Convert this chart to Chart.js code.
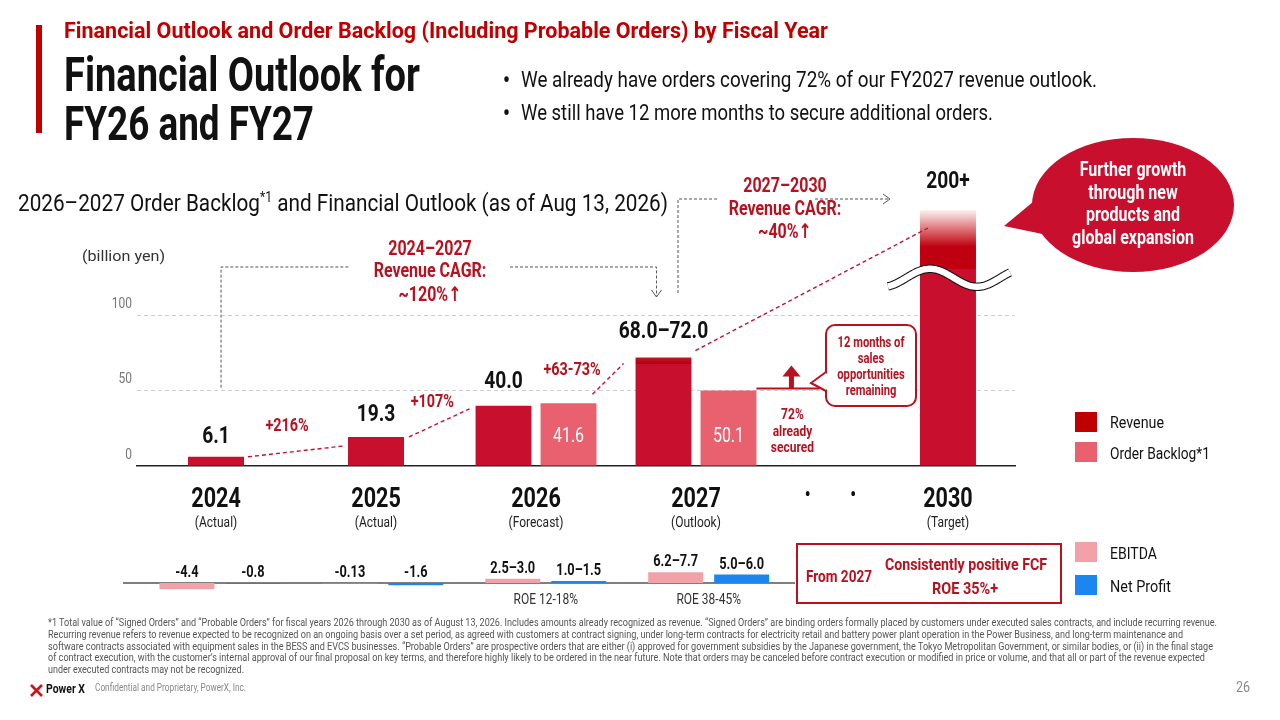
<!DOCTYPE html>
<html>
<head>
<meta charset="utf-8">
<script src="https://cdn.jsdelivr.net/npm/chart.js@4.4.1/dist/chart.umd.min.js"></script>
<style>
  html, body { margin: 0; padding: 0; background: #fff; }
  #page { position: relative; width: 1280px; height: 720px; overflow: hidden; }
  canvas { position: absolute; }
  .t { position: absolute; white-space: nowrap; }
</style>
</head>
<body>
<div id="page">
  <canvas id="main" width="1280" height="720" style="left:0;top:0"></canvas>
  <canvas id="sub" width="800" height="80" style="left:0;top:530px"></canvas>
</div>
<script>
// --- data ---
const categories = ['2024', '2025', '2026', '2027', '2030'];
const categoryNotes = ['(Actual)', '(Actual)', '(Forecast)', '(Outlook)', '(Target)'];
const revenue = [6.1, 19.3, 40.0, 72.0, 200];
const revenueLow = [null, null, null, 68.0, null];
const revenueLabels = ['6.1', '19.3', '40.0', '68.0–72.0', '200+'];
const orderBacklog = [null, null, 41.6, 50.1, null];
const growthLabels = ['+216%', '+107%', '+63-73%'];
const yTicks = [0, 50, 100];

const ebitda = [-4.4, -0.13, 3.0, 7.7];
const ebitdaLabels = ['-4.4', '-0.13', '2.5–3.0', '6.2–7.7'];
const netProfit = [-0.8, -1.6, 1.5, 6.0];
const netProfitLabels = ['-0.8', '-1.6', '1.0–1.5', '5.0–6.0'];
const roeLabels = ['', '', 'ROE 12-18%', 'ROE 38-45%'];

// --- colours ---
const RED = '#B8111F';
const REV = '#C8102E', REV_DARK = '#BE0010', BACK = '#E9616E';
const EBITDA_C = '#F2A1A9', NET_C = '#1B86F0';

// the slide uses a condensed face; none is installed, so Roboto gets squeezed
const FAM = '"Roboto", "DejaVu Sans", sans-serif';
const SQUEEZE = 0.8;
document.body.style.fontFamily = FAM;
Chart.defaults.font.family = FAM;
const f = (w, s) => `${w} ${s}px ${FAM}`;

// canvas text is narrowed through fillText's maxWidth
const narrowText = {
  id: 'narrowText',
  beforeInit(chart) {
    const c = chart.ctx, orig = c.fillText;
    c.fillText = function (t, x, y, mw) {
      const w = this.measureText(t).width * SQUEEZE;
      return orig.call(this, t, x, y, mw !== undefined ? Math.min(mw, w) : w);
    };
  }
};
Chart.register(narrowText);

// --- page text ---
const page = document.getElementById('page');
function txt(html, x, cy, size, o = {}) {
  const el = document.createElement('div');
  el.className = 't';
  el.innerHTML = html;
  Object.assign(el.style, {
    fontSize: size + 'px', lineHeight: size + 'px',
    fontWeight: o.bold ? '700' : '400', color: o.color || '#111'
  });
  page.appendChild(el);
  const natural = el.getBoundingClientRect().width;
  const w = o.w || natural * SQUEEZE;
  el.style.transformOrigin = '0 50%';
  el.style.transform = `scaleX(${w / natural})`;
  el.style.left = (o.center ? x - w / 2 : x) + 'px';
  el.style.top = (cy - size / 2) + 'px';
  return el;
}
function box(x, y, w, h, css) {
  const el = document.createElement('div');
  el.style.position = 'absolute';
  Object.assign(el.style, { left: x + 'px', top: y + 'px', width: w + 'px', height: h + 'px' }, css);
  page.appendChild(el);
}

box(36, 25, 6, 108, { background: '#C00000' });
txt('Financial Outlook and Order Backlog (Including Probable Orders) by Fiscal Year', 64, 31, 22, { bold: true, color: '#C00000', w: 764 });
txt('Financial Outlook for', 64, 75, 48, { bold: true, w: 356 });
txt('FY26 and FY27', 64, 124, 48, { bold: true, w: 250 });
txt('•', 503, 80, 24, { bold: true });
txt('•', 503, 113, 24, { bold: true });
txt('We already have orders covering 72% of our FY2027 revenue outlook.', 521, 80, 22, { w: 576 });
txt('We still have 12 more months to secure additional orders.', 521, 113, 22, { w: 472 });
txt('2026–2027 Order Backlog<sup style="font-size:14px;line-height:0">*1</sup> and Financial Outlook (as of Aug 13, 2026)', 18, 203, 24, { w: 650 });
txt('(billion yen)', 82, 256, 15, { color: '#333', w: 83 });

box(1075, 412, 22, 20, { background: '#C00000' });
box(1075, 442, 22, 20, { background: BACK });
box(1075, 542, 22, 20, { background: EBITDA_C });
box(1075, 575, 22, 20, { background: NET_C });
txt('Revenue', 1110, 422, 17, { w: 54 });
txt('Order Backlog*1', 1110, 453, 17, { w: 100 });
txt('EBITDA', 1110, 553, 17, { w: 47 });
txt('Net Profit', 1110, 586, 17, { w: 61 });

box(796, 543, 262, 57, { border: `2px solid ${RED}` });
txt('From 2027', 806, 576, 17, { bold: true, color: RED, w: 66 });
txt('Consistently positive FCF', 966, 564, 17, { bold: true, color: RED, w: 162, center: true });
txt('ROE 35%+', 965, 588, 17, { bold: true, color: RED, w: 66, center: true });

const notes = [
  ['*1 Total value of “Signed Orders” and “Probable Orders” for fiscal years 2026 through 2030 as of August 13, 2026. Includes amounts already recognized as revenue. “Signed Orders” are binding orders formally placed by customers under executed sales contracts, and include recurring revenue.', 1169],
  ['Recurring revenue refers to revenue expected to be recognized on an ongoing basis over a set period, as agreed with customers at contract signing, under long-term contracts for electricity retail and battery power plant operation in the Power Business, and long-term maintenance and', 1135],
  ['software contracts associated with equipment sales in the BESS and EVCS businesses. “Probable Orders” are prospective orders that are either (i) approved for government subsidies by the Japanese government, the Tokyo Metropolitan Government, or similar bodies, or (ii) in the final stage', 1165],
  ['of contract execution, with the customer’s internal approval of our final proposal on key terms, and therefore highly likely to be ordered in the near future. Note that orders may be canceled before contract execution or modified in price or volume, and that all or part of the revenue expected', 1157],
  ['under executed contracts may not be recognized.', 196]
];
notes.forEach(([t, w], i) => txt(t, 48, 623 + i * 11.8, 10, { color: '#555', w }));

const logo = document.createElement('div');
logo.innerHTML = '<svg width="13" height="13" viewBox="0 0 13 13"><path d="M1 1 L12 12 M12 1 L1 12" stroke="#D0121B" stroke-width="2.6"/></svg>';
Object.assign(logo.style, { position: 'absolute', left: '30px', top: '682px' });
page.appendChild(logo);
txt('Power X', 46, 688, 13, { bold: true, w: 39 });
txt('Confidential and Proprietary, PowerX, Inc.', 95, 688, 10, { color: '#888', w: 151 });
txt('26', 1236, 687, 15, { color: '#888', w: 14 });

// --- helpers for canvas drawing ---
function label(ctx, text, x, y, font, color, align = 'center') {
  ctx.save();
  ctx.font = font; ctx.fillStyle = color; ctx.textAlign = align; ctx.textBaseline = 'middle';
  ctx.fillText(text, x, y);
  ctx.restore();
}
function poly(ctx, pts) {
  ctx.beginPath();
  pts.forEach(([x, y], i) => i ? ctx.lineTo(x, y) : ctx.moveTo(x, y));
  ctx.stroke();
}

// --- main chart layout ---
// 2030 sits after a compressed gap, so the x axis is linear with a shortened step
const slotOf = i => (i < 4 ? i : 4.575);
const slots = categories.map((c, i) => slotOf(i));
const DOTS = 3.84;
const X_MIN = -0.494, X_MAX = 4.994;
const axisBreak = 125;

function revenueFill(c) {
  const chart = c.chart, area = chart.chartArea;
  if (!area || c.type !== 'data') return REV;
  const y = chart.scales.y, i = c.dataIndex;
  if (revenueLow[i] != null) {
    const top = y.getPixelForValue(revenue[i]), low = y.getPixelForValue(revenueLow[i]);
    const g = chart.ctx.createLinearGradient(0, top, 0, low + 1);
    g.addColorStop(0, '#C4162A'); g.addColorStop(0.85, '#B0000F'); g.addColorStop(1, REV);
    return g;
  }
  if (revenue[i] > y.max) {
    const top = area.top, brk = y.getPixelForValue(axisBreak);
    const g = chart.ctx.createLinearGradient(0, top, 0, brk);
    g.addColorStop(0, 'rgba(200,0,0,0.05)');
    g.addColorStop(0.54, REV_DARK);
    g.addColorStop(0.87, REV_DARK);
    g.addColorStop(0.88, REV);
    g.addColorStop(1, REV);
    return g;
  }
  return REV;
}

const annotations = {
  id: 'annotations',
  afterDatasetsDraw(chart) {
    const { ctx, chartArea: area, scales: { y } } = chart;
    const rev = chart.getDatasetMeta(0).data;
    const back = chart.getDatasetMeta(1).data;
    const L = b => b.x - b.width / 2, R = b => b.x + b.width / 2;

    // break marks on the 2030 bar
    const b4 = rev[4], brk = y.getPixelForValue(axisBreak);
    ctx.save();
    ctx.beginPath();
    for (let x = L(b4) - 32; x <= R(b4) + 34; x += 1) {
      const yy = brk - 9 * Math.cos((x - (b4.x - 18)) / 94 * 2 * Math.PI);
      x === L(b4) - 32 ? ctx.moveTo(x, yy) : ctx.lineTo(x, yy);
    }
    ctx.lineWidth = 8.5; ctx.strokeStyle = '#111'; ctx.stroke();
    ctx.lineWidth = 6.4; ctx.strokeStyle = '#fff'; ctx.stroke();
    ctx.restore();

    // value labels
    rev.forEach((b, i) => {
      const top = Math.max(b.y, area.top);
      label(ctx, revenueLabels[i], b.x, top - (i === 4 ? 28 : 20 + 2 * i), f('bold', 24), '#111');
    });
    back.forEach((b, i) => {
      if (orderBacklog[i] != null) label(ctx, orderBacklog[i].toFixed(1), b.x, b.base - 29, f('normal', 20), '#fff');
    });

    // growth trend lines
    const segs = [
      [R(rev[0]) + 4, rev[0].y, L(rev[1]) - 4, rev[1].y + 9],
      [R(rev[1]) + 5, rev[1].y, L(rev[2]) - 6, rev[2].y + 3],
      [R(back[2]) - 4, back[2].y - 9, L(rev[3]) - 12, rev[3].y + 6],
      [R(rev[3]) + 4, rev[3].y - 7, L(rev[4]) + 8, area.top + 18]
    ];
    const growthOffset = [[-9, -25], [-7, -20], [-36, -8]];
    ctx.save();
    ctx.strokeStyle = REV; ctx.lineWidth = 1.4; ctx.setLineDash([4, 3]);
    segs.forEach(s => poly(ctx, [[s[0], s[1]], [s[2], s[3]]]));
    ctx.restore();
    growthLabels.forEach((t, i) => {
      const s = segs[i];
      label(ctx, t, (s[0] + s[2]) / 2 + growthOffset[i][0], (s[1] + s[3]) / 2 + growthOffset[i][1], f('bold', 18), RED);
    });

    // CAGR brackets
    ctx.save();
    ctx.strokeStyle = '#555'; ctx.lineWidth = 1; ctx.setLineDash([3, 2]);
    const ax = rev[0].x + 5, bx = rev[3].x - 7;
    poly(ctx, [[ax, y.getPixelForValue(52)], [ax, 267], [350, 267]]);
    poly(ctx, [[510, 267], [bx, 267], [bx, 297]]);
    poly(ctx, [[678, 293], [678, 199], [719, 199]]);
    poly(ctx, [[815, 199], [890, 199]]);
    ctx.setLineDash([]);
    poly(ctx, [[bx - 5, 290], [bx, 297], [bx + 5, 290]]);
    poly(ctx, [[883, 194], [890, 199], [883, 204]]);
    ctx.restore();
    ['2024–2027', 'Revenue CAGR:', '~120%↑'].forEach((t, i) => label(ctx, t, 430, [250, 272, 296][i], f('bold', 20), RED));
    ['2027–2030', 'Revenue CAGR:', '~40%↑'].forEach((t, i) => label(ctx, t, 785, [187, 210, 233][i], f('bold', 20), RED));

    // 72% secured step and arrow
    const k3 = back[3], sy = k3.y - 2, arx = R(k3) + 35;
    ctx.save();
    ctx.strokeStyle = RED; ctx.fillStyle = RED; ctx.lineWidth = 2;
    poly(ctx, [[R(k3), sy], [R(k3) + 63, sy]]);
    ctx.fillRect(arx - 2.5, sy - 13, 5, 13);
    ctx.beginPath(); ctx.moveTo(arx - 9, sy - 12); ctx.lineTo(arx + 9, sy - 12); ctx.lineTo(arx, sy - 23); ctx.closePath(); ctx.fill();
    ctx.restore();
    ['72%', 'already', 'secured'].forEach((t, i) => label(ctx, t, arx + 1, k3.base - 50 + i * 16.5, f('bold', 15), RED));

    // callout box
    ctx.save();
    ctx.strokeStyle = RED; ctx.fillStyle = '#fff'; ctx.lineWidth = 2;
    ctx.beginPath(); ctx.roundRect(826, 325, 90, 81, 9); ctx.fill(); ctx.stroke();
    ctx.beginPath(); ctx.moveTo(826, 372); ctx.lineTo(811, 383); ctx.lineTo(826, 391); ctx.fill(); ctx.stroke();
    ctx.fillRect(825.5, 373.5, 3, 16);
    ctx.restore();
    ['12 months of', 'sales', 'opportunities', 'remaining'].forEach((t, i) => label(ctx, t, 871, 343 + i * 16, f('bold', 14), RED));

    // speech bubble
    ctx.save();
    ctx.fillStyle = REV;
    ctx.beginPath(); ctx.ellipse(1133, 205, 101, 67, 0, 0, 2 * Math.PI); ctx.fill();
    ctx.beginPath(); ctx.moveTo(1045, 192); ctx.lineTo(1052, 236); ctx.lineTo(1004, 226); ctx.closePath(); ctx.fill();
    ctx.restore();
    ['Further growth', 'through new', 'products and', 'global expansion'].forEach((t, i) => label(ctx, t, 1133, [171, 194, 216, 239][i], f('bold', 20), '#fff'));
  }
};

const linearX = (extra) => Object.assign({
  type: 'linear', position: 'bottom', min: X_MIN, max: X_MAX, bounds: 'data', offset: false,
  grid: { display: false, drawTicks: false, offset: false }, border: { display: false }
}, extra);

new Chart(document.getElementById('main'), {
  type: 'bar',
  data: {
    datasets: [
      { label: 'Revenue', data: revenue.map((v, i) => ({ x: slotOf(i), y: v })), backgroundColor: revenueFill },
      { label: 'Order Backlog*1', data: orderBacklog.map((v, i) => ({ x: slotOf(i), y: v })), backgroundColor: BACK }
    ]
  },
  options: {
    responsive: false,
    animation: false,
    layout: { padding: { left: 97, right: 265, top: 210, bottom: 186 } },
    datasets: { bar: { skipNull: true, categoryPercentage: 0.8125, barPercentage: 0.86, maxBarThickness: 56 } },
    plugins: { legend: { display: false }, tooltip: { enabled: false } },
    scales: {
      x: linearX({
        display: false, weight: 0,
        afterBuildTicks: s => { s.ticks = slots.map(v => ({ value: v })); }
      }),
      xYear: linearX({
        weight: 1,
        border: { display: true, color: '#222', width: 1.5 },
        afterBuildTicks: s => { s.ticks = [...slots.slice(0, 4), DOTS, slots[4]].map(v => ({ value: v })); },
        afterFit: s => { s.height = 42; },
        ticks: {
          autoSkip: false, maxRotation: 0, padding: 18, color: '#111',
          font: c => (c.index === 4 ? { size: 20, weight: 'bold' } : { size: 27, weight: 'bold' }),
          callback: (v, i) => [...categories.slice(0, 4), '•          •', categories[4]][i]
        }
      }),
      xNote: linearX({
        weight: 2,
        afterBuildTicks: s => { s.ticks = slots.map(v => ({ value: v })); },
        afterFit: s => { s.height = 26; },
        ticks: {
          autoSkip: false, maxRotation: 0, padding: 6, color: '#222', font: { size: 15 },
          callback: (v, i) => categoryNotes[i]
        }
      }),
      y: {
        min: 0, max: 170,
        afterBuildTicks: s => { s.ticks = yTicks.map(v => ({ value: v })); },
        afterFit: s => { s.width = 40; },
        grid: { drawTicks: false, lineWidth: 1, color: c => (c.tick && c.tick.value === 0 ? 'rgba(0,0,0,0)' : '#cfcfcf') },
        border: { display: false, dash: [4, 3] },
        ticks: { color: '#777', font: { size: 15 }, padding: 5, labelOffset: -11 }
      }
    }
  },
  plugins: [annotations]
});

// --- EBITDA / net profit strip ---
const subLabels = {
  id: 'subLabels',
  beforeDatasetsDraw(chart) {
    const { ctx, chartArea: area, scales: { y } } = chart;
    ctx.save();
    ctx.strokeStyle = '#555'; ctx.lineWidth = 1.5;
    poly(ctx, [[area.left, y.getPixelForValue(0)], [area.right, y.getPixelForValue(0)]]);
    ctx.restore();
  },
  afterDatasetsDraw(chart) {
    const { ctx, scales: { y } } = chart;
    const texts = [ebitdaLabels, netProfitLabels];
    [0, 1].forEach(d => chart.getDatasetMeta(d).data.forEach((b, i) => {
      label(ctx, texts[d][i], b.x, Math.min(b.y, b.base) - 10, f('bold', 16), '#111');
    }));
    roeLabels.forEach((t, i) => {
      if (t) label(ctx, t, chart.scales.x.getPixelForValue(i), y.getPixelForValue(0) + 17, f('normal', 15), '#333');
    });
  }
};

new Chart(document.getElementById('sub'), {
  type: 'bar',
  data: {
    datasets: [
      { label: 'EBITDA', data: ebitda.map((v, i) => ({ x: i, y: v })), backgroundColor: EBITDA_C },
      { label: 'Net Profit', data: netProfit.map((v, i) => ({ x: i, y: v })), backgroundColor: NET_C }
    ]
  },
  options: {
    responsive: false,
    animation: false,
    layout: { padding: { left: 123, right: 5, top: 41.8, bottom: 18.6 } },
    datasets: { bar: { categoryPercentage: 0.81, barPercentage: 0.833 } },
    plugins: { legend: { display: false }, tooltip: { enabled: false } },
    scales: {
      x: {
        type: 'linear', display: false, min: -0.595, max: 3.53, bounds: 'data', offset: false,
        afterBuildTicks: s => { s.ticks = ebitda.map((v, i) => ({ value: i })); }
      },
      y: { display: false, min: -6, max: 8 }
    }
  },
  plugins: [subLabels]
});
</script>
</body>
</html>
